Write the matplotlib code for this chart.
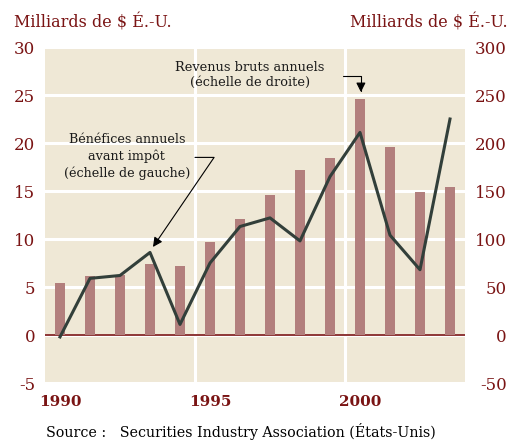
import numpy as np
import matplotlib.pyplot as plt

# données
years = [1990, 1991, 1992, 1993, 1994, 1995, 1996, 1997, 1998, 1999, 2000, 2001, 2002, 2003]
revenus = [54, 61, 63, 74, 72, 97, 121, 146, 172, 184, 246, 196, 149, 154]   # échelle de droite
benefices = [-0.2, 5.9, 6.2, 8.6, 1.1, 7.5, 11.3, 12.2, 9.8, 16.5, 21.1, 10.4, 6.8, 22.5]  # échelle de gauche
left_ticks = [30, 25, 20, 15, 10, 5, 0, -5]
right_ticks = [300, 250, 200, 150, 100, 50, 0, -50]
year_labels = [1990, 1995, 2000]

red = '#7a1414'
bg = '#efe8d6'
bar_col = '#b27f7d'
line_col = '#323f3a'
plt.rcParams['font.family'] = ['DejaVu Serif']

fig = plt.figure(figsize=(5.13, 4.41), dpi=100)
ax = fig.add_axes([45/513, 58/441, 420/513, 336/441])
ax2 = ax.twinx()

ax.set_facecolor(bg)
ax.set_xlim(1989.5, 2003.5)
ax.set_ylim(-5, 30)
ax2.set_ylim(-50, 300)

# grille blanche
for v in left_ticks:
    ax.axhline(v, color='white', lw=2.2, zorder=1)
for v in [1994.5, 1999.5]:
    ax.axvline(v, color='white', lw=2.2, zorder=1)
ax.axhline(0, color=red, lw=1.2, zorder=2)

ax2.bar(years, revenus, width=0.34, color=bar_col, zorder=3)
ax2.plot(years, np.array(benefices) * 10, color=line_col, lw=2.2, zorder=4)

for a in (ax, ax2):
    for s in a.spines.values():
        s.set_visible(False)
    a.tick_params(length=0, colors=red, labelsize=12)
ax.set_yticks(left_ticks)
ax.set_yticklabels([str(v) for v in left_ticks])
ax2.set_yticks(right_ticks)
ax2.set_yticklabels([str(v) for v in right_ticks], ha='right')
ax2.tick_params(axis='y', pad=30)
ax.tick_params(axis='y', pad=7)
ax.set_xticks(year_labels)
ax.set_xticklabels([str(v) for v in year_labels], fontweight='bold', fontsize=11)
ax.tick_params(axis='x', pad=9)

fig.text(14/513, 1 - 22/441, 'Milliards de $ É.-U.', color=red, fontsize=11.5, va='center', ha='left')
fig.text(508/513, 1 - 22/441, 'Milliards de $ É.-U.', color=red, fontsize=11.5, va='center', ha='right')
fig.text(46/513, 1 - 432/441, 'Source :   Securities Industry Association (États-Unis)',
         color='black', fontsize=10.3, va='center', ha='left')

ax.text(1996.33, 27.1, 'Revenus bruts annuels\n(échelle de droite)', ha='center', va='center',
        fontsize=9.3, linespacing=1.25, color='#1a1a1a', zorder=6)
ax.annotate('', xy=(2000.03, 25.3), xytext=(1999.43, 27.0),
            arrowprops=dict(arrowstyle='-|>', color='black', lw=0.8, mutation_scale=14,
                            shrinkA=0, shrinkB=0,
                            connectionstyle='angle,angleA=0,angleB=90,rad=0'), zorder=6)

ax.text(1992.23, 18.6, 'Bénéfices annuels\navant impôt\n(échelle de gauche)', ha='center', va='center',
        fontsize=9.2, linespacing=1.35, color='#1a1a1a', zorder=6)
ax.annotate('', xy=(1993.1, 9.17), xytext=(1994.5, 18.5),
            arrowprops=dict(arrowstyle='-|>', color='black', lw=0.8, mutation_scale=14,
                            shrinkA=0, shrinkB=0,
                            connectionstyle='angle,angleA=0,angleB=55.7,rad=0'), zorder=6)

fig.savefig('out.png', dpi=100, facecolor='white')
